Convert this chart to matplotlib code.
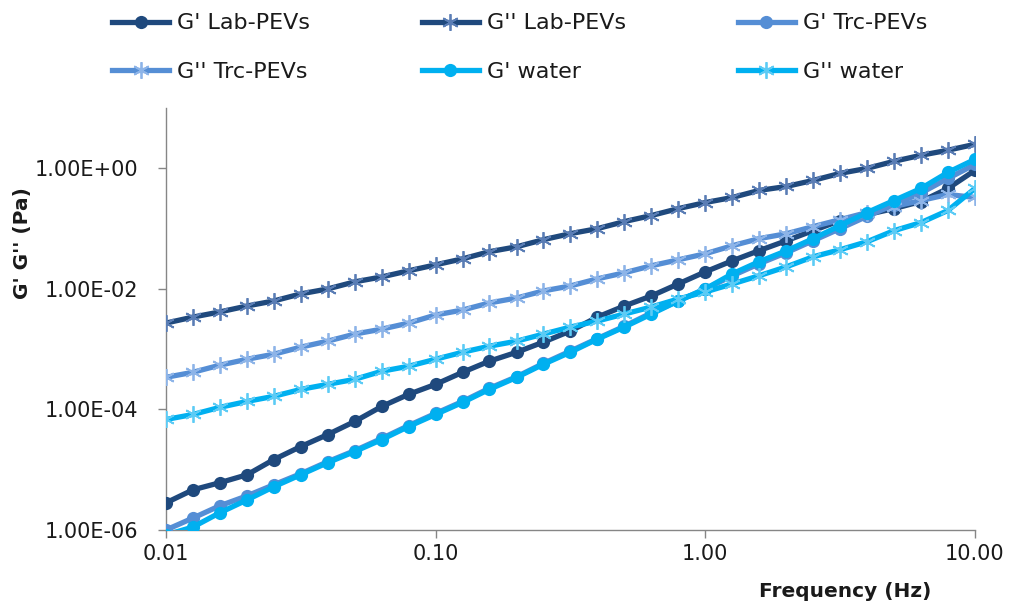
import matplotlib
matplotlib.use("Agg")
import matplotlib.pyplot as plt
from matplotlib.ticker import FixedLocator, FixedFormatter, NullLocator

plt.rcParams['font.family'] = ['DejaVu Sans']

freq = [0.01, 0.0126, 0.0158, 0.02, 0.0251, 0.0316, 0.0398, 0.0501, 0.0631, 0.0794,
        0.1, 0.126, 0.158, 0.2, 0.251, 0.316, 0.398, 0.501, 0.631, 0.794,
        1.0, 1.26, 1.58, 2.0, 2.51, 3.16, 3.98, 5.01, 6.31, 7.94, 10.0]

g1_lab = [2.82e-6, 4.64e-6, 6.07e-6, 8.25e-6, 1.47e-5, 2.42e-5, 3.83e-5, 6.31e-5, 1.12e-4, 1.78e-4,
          2.61e-4, 4.14e-4, 6.31e-4, 8.91e-4, 1.31e-3, 2.0e-3, 3.41e-3, 5.21e-3, 7.64e-3, 1.21e-2,
          1.92e-2, 2.93e-2, 4.30e-2, 6.31e-2, 9.26e-2, 0.136, 0.171, 0.215, 0.282, 0.464, 0.926]
g2_lab = [2.71e-3, 3.41e-3, 4.14e-3, 5.21e-3, 6.31e-3, 8.26e-3, 1.0e-2, 1.31e-2, 1.58e-2, 2.0e-2,
          2.51e-2, 3.16e-2, 4.14e-2, 5.01e-2, 6.56e-2, 8.26e-2, 0.1, 0.131, 0.165, 0.215,
          0.271, 0.329, 0.43, 0.501, 0.631, 0.826, 1.0, 1.31, 1.65, 2.0, 2.51]
g1_trc = [1.0e-6, 1.58e-6, 2.51e-6, 3.69e-6, 5.62e-6, 8.58e-6, 1.36e-5, 2.07e-5, 3.3e-5, 5.4e-5,
          8.6e-5, 1.36e-4, 2.24e-4, 3.5e-4, 5.8e-4, 9.3e-4, 1.5e-3, 2.4e-3, 4.0e-3, 6.3e-3,
          1.0e-2, 1.65e-2, 2.6e-2, 4.0e-2, 6.3e-2, 0.1, 0.16, 0.25, 0.39, 0.68, 1.16]
g2_trc = [3.41e-4, 4.14e-4, 5.41e-4, 6.81e-4, 8.25e-4, 1.08e-3, 1.36e-3, 1.78e-3, 2.15e-3, 2.71e-3,
          3.69e-3, 4.47e-3, 5.84e-3, 7.08e-3, 9.26e-3, 1.12e-2, 1.47e-2, 1.85e-2, 2.42e-2, 3.04e-2,
          3.83e-2, 5.21e-2, 6.81e-2, 8.25e-2, 0.108, 0.141, 0.185, 0.233, 0.293, 0.369, 0.329]
g1_water = [8.25e-7, 1.12e-6, 1.92e-6, 3.16e-6, 5.21e-6, 8.25e-6, 1.31e-5, 2.0e-5, 3.16e-5, 5.21e-5,
            8.26e-5, 1.31e-4, 2.15e-4, 3.41e-4, 5.62e-4, 8.91e-4, 1.47e-3, 2.33e-3, 3.83e-3, 6.31e-3,
            1.0e-2, 1.78e-2, 2.82e-2, 4.30e-2, 6.81e-2, 0.112, 0.185, 0.293, 0.464, 0.857, 1.41]
g2_water = [6.81e-5, 8.26e-5, 1.08e-4, 1.36e-4, 1.65e-4, 2.15e-4, 2.61e-4, 3.16e-4, 4.30e-4, 5.21e-4,
            6.81e-4, 8.91e-4, 1.12e-3, 1.36e-3, 1.78e-3, 2.33e-3, 2.93e-3, 3.83e-3, 5.01e-3, 6.81e-3,
            8.91e-3, 1.21e-2, 1.65e-2, 2.33e-2, 3.41e-2, 4.47e-2, 6.07e-2, 9.26e-2, 0.126, 0.200, 0.464]

labels = ["G' Lab-PEVs", "G'' Lab-PEVs", "G' Trc-PEVs", "G'' Trc-PEVs", "G' water", "G'' water"]
y_ticks = [1e-6, 1e-4, 1e-2, 1e0]
y_tick_labels = ["1.00E-06", "1.00E-04", "1.00E-02", "1.00E+00"]
x_ticks = [0.01, 0.1, 1.0, 10.0]
x_tick_labels = ["0.01", "0.10", "1.00", "10.00"]

c_lab = '#1F497D'
c_trc = '#558ED5'
c_wat = '#00B0F0'
star = (6, 2, 0)

fig = plt.figure(figsize=(10.15, 6.07), dpi=100)
ax = fig.add_axes([0.1635, 0.1269, 0.797, 0.695])

lw = 3.8
ms_c = 9.5
ms_s = 12
series = [
    (g1_lab, dict(color=c_lab, marker='o', markersize=ms_c, markeredgewidth=0)),
    (g2_lab, dict(color=c_lab, marker=star, markersize=ms_s, markeredgewidth=1.3, markeredgecolor='#5A7DB5')),
    (g1_trc, dict(color=c_trc, marker='o', markersize=ms_c, markeredgewidth=0)),
    (g2_trc, dict(color=c_trc, marker=star, markersize=ms_s, markeredgewidth=1.3, markeredgecolor='#8DB4E8')),
    (g1_water, dict(color=c_wat, marker='o', markersize=ms_c, markeredgewidth=0)),
    (g2_water, dict(color=c_wat, marker=star, markersize=ms_s, markeredgewidth=1.3, markeredgecolor='#5CCBF5')),
]
draw_order = [1, 3, 5, 0, 2, 4]
handles = [None] * 6
for i in draw_order:
    vals, kw = series[i]
    h, = ax.plot(freq, vals, linewidth=lw, label=labels[i], zorder=3 + i * 0.1, **kw)
    handles[i] = h

ax.set_xscale('log')
ax.set_yscale('log')
ax.set_xlim(0.01, 10.0)
ax.set_ylim(1e-6, 1e1)

ax.yaxis.set_major_locator(FixedLocator(y_ticks))
ax.yaxis.set_major_formatter(FixedFormatter(y_tick_labels))
ax.yaxis.set_minor_locator(NullLocator())
ax.xaxis.set_major_locator(FixedLocator(x_ticks))
ax.xaxis.set_major_formatter(FixedFormatter(x_tick_labels))
ax.xaxis.set_minor_locator(NullLocator())

for s in ['top', 'right']:
    ax.spines[s].set_visible(False)
for s in ['left', 'bottom']:
    ax.spines[s].set_color('#868686')
    ax.spines[s].set_linewidth(1.0)
ax.tick_params(axis='both', which='major', direction='out', length=6, width=1.0,
               color='#868686', labelsize=15, labelcolor='#1a1a1a')
ax.tick_params(axis='y', pad=14)
ax.tick_params(axis='x', pad=4)

fig.text(0.022, 0.60, "G' G'' (Pa)", rotation=90, fontsize=14.5, fontweight='bold',
         ha='center', va='center', color='#1a1a1a')
fig.text(0.833, 0.025, "Frequency (Hz)", fontsize=14.5, fontweight='bold',
         ha='center', va='center', color='#1a1a1a')

leg_order = [0, 3, 1, 4, 2, 5]
leg = fig.legend(handles=[handles[i] for i in leg_order], labels=[labels[i] for i in leg_order],
                 ncol=3, loc='upper left',
                 bbox_to_anchor=(0.110, 0.978), frameon=False, fontsize=16,
                 handlelength=2.6, handletextpad=0.36, columnspacing=5.0,
                 labelspacing=1.3, numpoints=1, borderpad=0, borderaxespad=0)
for t in leg.get_texts():
    t.set_color('#1a1a1a')

fig.savefig('out.png', dpi=100)
